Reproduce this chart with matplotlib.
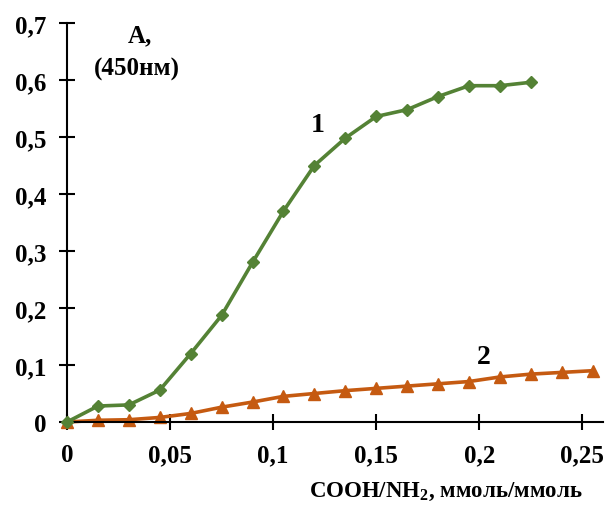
import matplotlib
matplotlib.use("Agg")
import matplotlib.pyplot as plt

x1 = [0, 0.015, 0.03, 0.045, 0.06, 0.075, 0.09, 0.105, 0.12, 0.135, 0.15, 0.165, 0.18, 0.195, 0.21, 0.225]
y1 = [0, 0.028, 0.030, 0.056, 0.120, 0.187, 0.280, 0.370, 0.450, 0.498, 0.536, 0.548, 0.571, 0.590, 0.590, 0.596]
x2 = [0, 0.015, 0.03, 0.045, 0.06, 0.075, 0.09, 0.105, 0.12, 0.135, 0.15, 0.165, 0.18, 0.195, 0.21, 0.225, 0.24, 0.255]
y2 = [0, 0.003, 0.004, 0.008, 0.015, 0.026, 0.035, 0.045, 0.050, 0.055, 0.059, 0.063, 0.067, 0.071, 0.079, 0.084, 0.087, 0.090]
xticks = [0, 0.05, 0.1, 0.15, 0.2, 0.25]
xticklabels = ["0", "0,05", "0,1", "0,15", "0,2", "0,25"]
yticks = [0, 0.1, 0.2, 0.3, 0.4, 0.5, 0.6, 0.7]
yticklabels = ["0", "0,1", "0,2", "0,3", "0,4", "0,5", "0,6", "0,7"]

plt.rcParams['font.family'] = ['Liberation Serif', 'DejaVu Serif']
plt.rcParams['font.weight'] = 'bold'
plt.rcParams['mathtext.fontset'] = 'custom'
plt.rcParams['mathtext.rm'] = 'Liberation Serif:bold'
plt.rcParams['mathtext.bf'] = 'Liberation Serif:bold'
plt.rcParams['mathtext.it'] = 'Liberation Serif:bold'

fig = plt.figure(figsize=(6.08, 5.06), dpi=100)
ax = fig.add_axes([67/608, (506-423)/506, (603-67)/608, (423-24)/506])

green = '#548235'
orange = '#C55A11'
ax.plot(x1, y1, color=green, lw=2.6, marker='D', ms=6.5, solid_joinstyle='round', zorder=3)
ax.plot(x2, y2, color=orange, lw=2.6, marker='^', ms=8.5, solid_joinstyle='round', zorder=2)

ax.set_xlim(0, 0.26)
ax.set_ylim(0, 0.7)
ax.set_xticks(xticks)
ax.set_xticklabels(xticklabels)
ax.set_yticks(yticks)
ax.set_yticklabels(yticklabels)
for s in ['top', 'right']:
    ax.spines[s].set_visible(False)
for s in ['left', 'bottom']:
    ax.spines[s].set_linewidth(1.5)
ax.tick_params(direction='inout', length=12, width=1.5, labelsize=18, pad=9)
for lab in ax.get_xticklabels() + ax.get_yticklabels():
    lab.set_fontweight('bold')
for line in ax.lines:
    line.set_clip_on(False)

fig.text(140/608, 1-36/506, "А,", ha='center', va='center', fontsize=18, fontweight='bold')
fig.text(137/608, 1-69/506, "(450нм)", ha='center', va='center', fontsize=18, fontweight='bold')
fig.text(318/608, 1-125/506, "1", ha='center', va='center', fontsize=20, fontweight='bold')
fig.text(484/608, 1-357/506, "2", ha='center', va='center', fontsize=20, fontweight='bold')
fig.text(446/608, 1-492/506, "COOH/NH$_{2}$, ммоль/ммоль", ha='center', va='center', fontsize=16.5, fontweight='bold')

fig.savefig("out.png", dpi=100)
